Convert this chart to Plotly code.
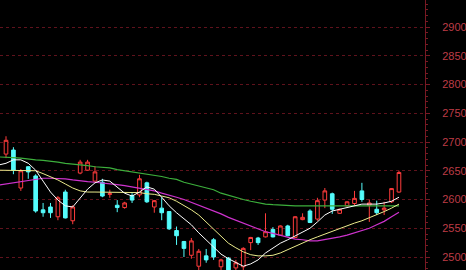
import plotly.graph_objects as go

# candle index (category position)
idx = list(range(1, 55))
opens = [2679, 2686, 2620, 2657, 2641, 2582, 2587, 2570, 2613, 2563,
         2646, 2651, 2632, 2630, 2609, 2590, 2586, 2607, 2608, 2629,
         2587, 2585, 2579, 2546, 2527, 2503, 2484, 2502, 2530, 2483,
         2498, 2481, 2483, 2525, 2533, 2535, 2548, 2538, 2554, 2534,
         2565, 2580, 2566, 2599, 2610, 2576, 2589, 2593, 2615, 2590,
         2583, 2582, 2596, 2613]
highs = [2710, 2691, 2653, 2658, 2644, 2594, 2594, 2606, 2617, 2590,
         2669, 2669, 2658, 2636, 2617, 2599, 2596, 2611, 2643, 2631,
         2599, 2604, 2580, 2553, 2528, 2533, 2514, 2514, 2533, 2497,
         2500, 2495, 2517, 2535, 2535, 2576, 2552, 2555, 2556, 2571,
         2576, 2583, 2603, 2620, 2612, 2584, 2597, 2615, 2629, 2600,
         2598, 2596, 2620, 2650]
lows = [2672, 2644, 2615, 2636, 2577, 2570, 2568, 2564, 2567, 2557,
        2644, 2650, 2630, 2604, 2603, 2578, 2584, 2594, 2604, 2594,
        2577, 2564, 2547, 2521, 2500, 2497, 2474, 2490, 2495, 2477,
        2470, 2474, 2474, 2512, 2521, 2534, 2534, 2537, 2536, 2533,
        2564, 2559, 2563, 2585, 2575, 2575, 2588, 2590, 2596, 2561,
        2573, 2573, 2594, 2612]
closes = [2703, 2651, 2650, 2648, 2580, 2577, 2577, 2603, 2568, 2587,
          2665, 2665, 2648, 2606, 2610, 2586, 2594, 2599, 2636, 2596,
          2598, 2577, 2549, 2537, 2515, 2528, 2510, 2495, 2500, 2495,
          2474, 2490, 2515, 2534, 2525, 2544, 2535, 2554, 2537, 2570,
          2569, 2560, 2598, 2615, 2583, 2583, 2596, 2602, 2600, 2594,
          2577, 2585, 2619, 2647]

# moving-average lines (index 0 .. 54)
ma_idx = list(range(0, 55))
ma5 = [2660, 2663, 2669, 2669, 2663, 2651, 2632, 2613, 2599, 2589, 2587,
       2603, 2618, 2629, 2634, 2632, 2622, 2611, 2606, 2613, 2622,
       2618, 2604, 2589, 2577, 2566, 2556, 2542, 2530, 2517, 2505,
       2497, 2490, 2484, 2488, 2495, 2507, 2516, 2524, 2530, 2537,
       2543, 2550, 2561, 2573, 2580, 2583, 2587, 2590, 2592, 2592,
       2592, 2594, 2597, 2604]
ma10 = [2651, 2651, 2651, 2651, 2650, 2650, 2645, 2640, 2634, 2627, 2620,
        2615, 2613, 2613, 2613, 2613, 2613, 2613, 2613, 2612, 2610,
        2609, 2606, 2603, 2597, 2590, 2582, 2573, 2561, 2549, 2537,
        2524, 2516, 2509, 2504, 2502, 2502, 2503, 2507, 2513, 2519,
        2524, 2530, 2535, 2540, 2545, 2550, 2555, 2559, 2563, 2568,
        2573, 2579, 2585, 2592]
ma30 = [2625, 2627, 2630, 2632, 2634, 2636, 2637, 2637, 2637, 2636, 2634,
        2632, 2631, 2630, 2629, 2627, 2626, 2624, 2622, 2620, 2617,
        2615, 2611, 2608, 2604, 2600, 2595, 2591, 2586, 2580, 2575,
        2569, 2564, 2559, 2553, 2548, 2544, 2541, 2538, 2534, 2531,
        2530, 2528, 2528, 2530, 2532, 2535, 2538, 2542, 2546, 2550,
        2556, 2562, 2570, 2578]
ma60 = [2674, 2674, 2673, 2672, 2670, 2669, 2668, 2667, 2665, 2663, 2662,
        2661, 2659, 2657, 2656, 2655, 2652, 2650, 2649, 2646, 2644,
        2642, 2640, 2637, 2635, 2630, 2627, 2623, 2620, 2617, 2611,
        2607, 2604, 2600, 2597, 2594, 2592, 2591, 2590, 2590, 2589,
        2589, 2589, 2589, 2589, 2589, 2589, 2589, 2589, 2589, 2589,
        2589, 2589, 2589, 2589]

tick_vals = [2500, 2550, 2600, 2650, 2700, 2750, 2800, 2850, 2900, 2950]
tick_text = [str(v) for v in tick_vals]

RED = "rgb(255,60,60)"
CYAN = "rgb(84,252,252)"

fig = go.Figure()
fig.add_trace(go.Candlestick(
    x=idx, open=opens, high=highs, low=lows, close=closes,
    increasing=dict(line=dict(color=RED, width=1), fillcolor="rgba(0,0,0,1)"),
    decreasing=dict(line=dict(color=CYAN, width=1), fillcolor=CYAN),
    whiskerwidth=0, hoverinfo="skip"))

for vals, col, w in [(ma60, "rgb(60,175,60)", 1.2),
                     (ma30, "rgb(205,50,205)", 1.2),
                     (ma10, "rgb(235,235,140)", 1.0),
                     (ma5, "rgb(255,255,255)", 1.0)]:
    fig.add_trace(go.Scatter(x=ma_idx, y=vals, mode="lines",
                             line=dict(color=col, width=w), hoverinfo="skip"))

fig.update_layout(
    width=466, height=270,
    margin=dict(l=0, r=41, t=0, b=0),
    paper_bgcolor="black", plot_bgcolor="black",
    showlegend=False, boxgap=0.3, hovermode=False,
    font=dict(family="Liberation Sans, Arial", size=11, color="rgb(190,60,70)"),
    xaxis=dict(visible=False, range=[0.19, 57.51], rangeslider=dict(visible=False)),
    yaxis=dict(side="right", range=[2477.4, 2947],
               tickvals=tick_vals, ticktext=tick_text,
               showgrid=True, gridcolor="rgb(95,18,28)", griddash="dot", gridwidth=1,
               showline=True, linecolor="rgb(120,25,35)", linewidth=1,
               ticks="outside", ticklen=4, tickcolor="rgb(120,25,35)",
               ticklabelstandoff=10, zeroline=False,
               minor=dict(dtick=10, tick0=2500, ticks="outside", ticklen=2,
                          tickcolor="rgb(120,25,35)", showgrid=False),
               tickfont=dict(color="rgb(190,60,70)", size=11)),
)

fig.write_html("out.html")
